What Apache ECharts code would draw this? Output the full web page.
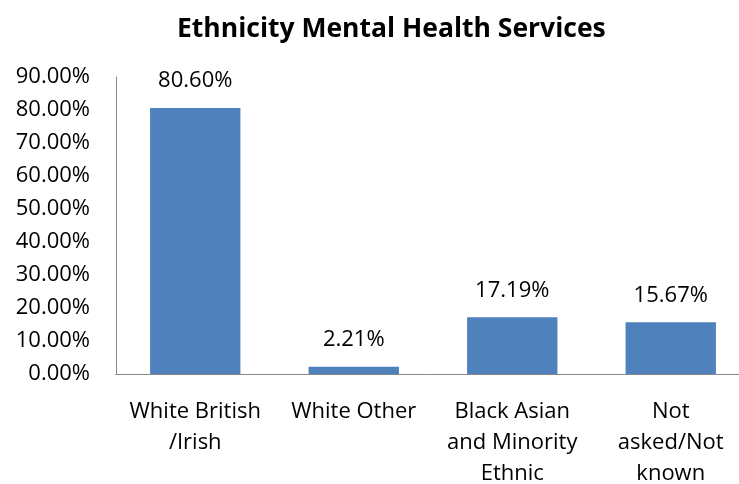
<!DOCTYPE html>
<html><head><meta charset="utf-8">
<script src="https://cdn.jsdelivr.net/npm/echarts@6/dist/echarts.min.js"></script>
<style>html,body{margin:0;padding:0;background:#fff}#c{width:739px;height:484px}</style>
</head><body><div id="c"></div>
<script>
const categories = ["White British\n/Irish", "White Other", "Black Asian\nand Minority\nEthnic", "Not\nasked/Not\nknown"];
const values = [80.60, 2.21, 17.19, 15.67];
const yTicks = [0, 10, 20, 30, 40, 50, 60, 70, 80, 90];
const chart = echarts.init(document.getElementById('c'));
const F = "'Open Sans', 'Noto Sans', sans-serif";
chart.setOption({
  animation: false,
  title: {text: "Ethnicity Mental Health Services", left: 172, top: 11,
    textStyle: {fontFamily: F, fontWeight: 'bold', fontSize: 26.5, color: '#000'}},
  grid: {left: 116, right: -11, top: 77, bottom: 110, outerBoundsMode: 'none', containLabel: false},
  xAxis: {type: 'category', data: categories,
    axisLine: {lineStyle: {color: '#888', width: 1}}, axisTick: {show: false},
    axisLabel: {fontFamily: F, fontSize: 22, color: '#000', lineHeight: 31, margin: 22, interval: 0}},
  yAxis: {type: 'value', min: yTicks[0], max: yTicks[yTicks.length-1], interval: 10,
    splitLine: {show: false}, axisLine: {show: true, lineStyle: {color: '#888'}}, axisTick: {show: false},
    axisLabel: {fontFamily: F, fontSize: 22, color: '#000', margin: 26, formatter: v => v.toFixed(2) + '%'}},
  series: [{type: 'bar', data: values, barCategoryGap: '43%',
    itemStyle: {color: '#4f81bd'},
    label: {show: true, position: 'top', distance: 16, fontFamily: F, fontSize: 22, color: '#000',
      formatter: p => p.value.toFixed(2) + '%'}}]
});
</script></body></html>
